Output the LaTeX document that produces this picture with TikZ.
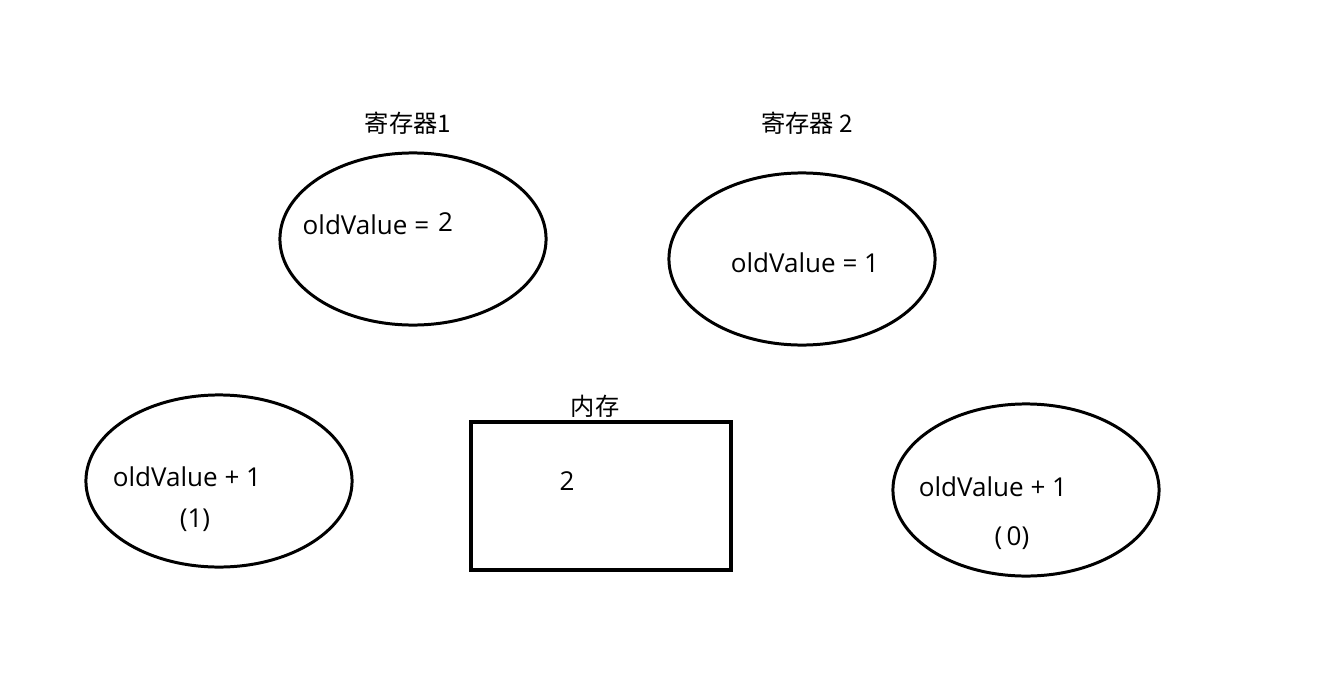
\documentclass[tikz,border=0pt]{standalone}
\usepackage{fontspec}
\setmainfont{Open Sans}
\newfontfamily\cjk{Noto Sans CJK SC}
\usetikzlibrary{shapes.geometric, positioning}

\begin{document}
\begin{tikzpicture}[
    x=0.01cm, y=-0.01cm,
    reg/.style={ellipse, draw, line width=0.85pt, minimum width=2.66cm, minimum height=1.72cm, inner sep=0pt},
    mem/.style={rectangle, draw, line width=1pt, minimum width=2.6cm, minimum height=1.48cm, inner sep=0pt},
    txt/.style={inner sep=0pt, font=\fontsize{7.4}{9}\selectfont},
    title/.style={inner sep=0pt, font=\fontsize{6.9}{8}\selectfont\cjk}
]
\useasboundingbox (0,0) rectangle (1342,697);

% registers
\node[reg] (reg1) at (413,239) {};
\node[reg] (reg2) at (802,259) {};
\node[title] (reg1title) at (408,123) {寄存器1};
\node[title] (reg2title) at (807,123) {寄存器 2};
\node[txt, anchor=west] (reg1val) at (302,224) {oldValue =\hspace{0.09cm}\raisebox{0.03cm}{2}};
\node[txt] (reg2val) at (805,263) {oldValue = 1};

% thread copies
\node[reg] (calc1) at (219,481) {};
\node[reg] (calc2) at (1026,490) {};
\node[txt] (calc1expr) at (187,477) {oldValue + 1};
\node[txt] (calc1res) at (195,520) {(1)};
\node[txt] (calc2expr) at (993,487) {oldValue + 1};
\node[txt] (calc2res) at (1012,538) {(\,0)};

% memory
\node[mem] (mem) at (601,496) {};
\node[title] (memtitle) at (595,406) {内存};
\node[txt] (memval) at (567,481) {2};
\end{tikzpicture}
\end{document}
